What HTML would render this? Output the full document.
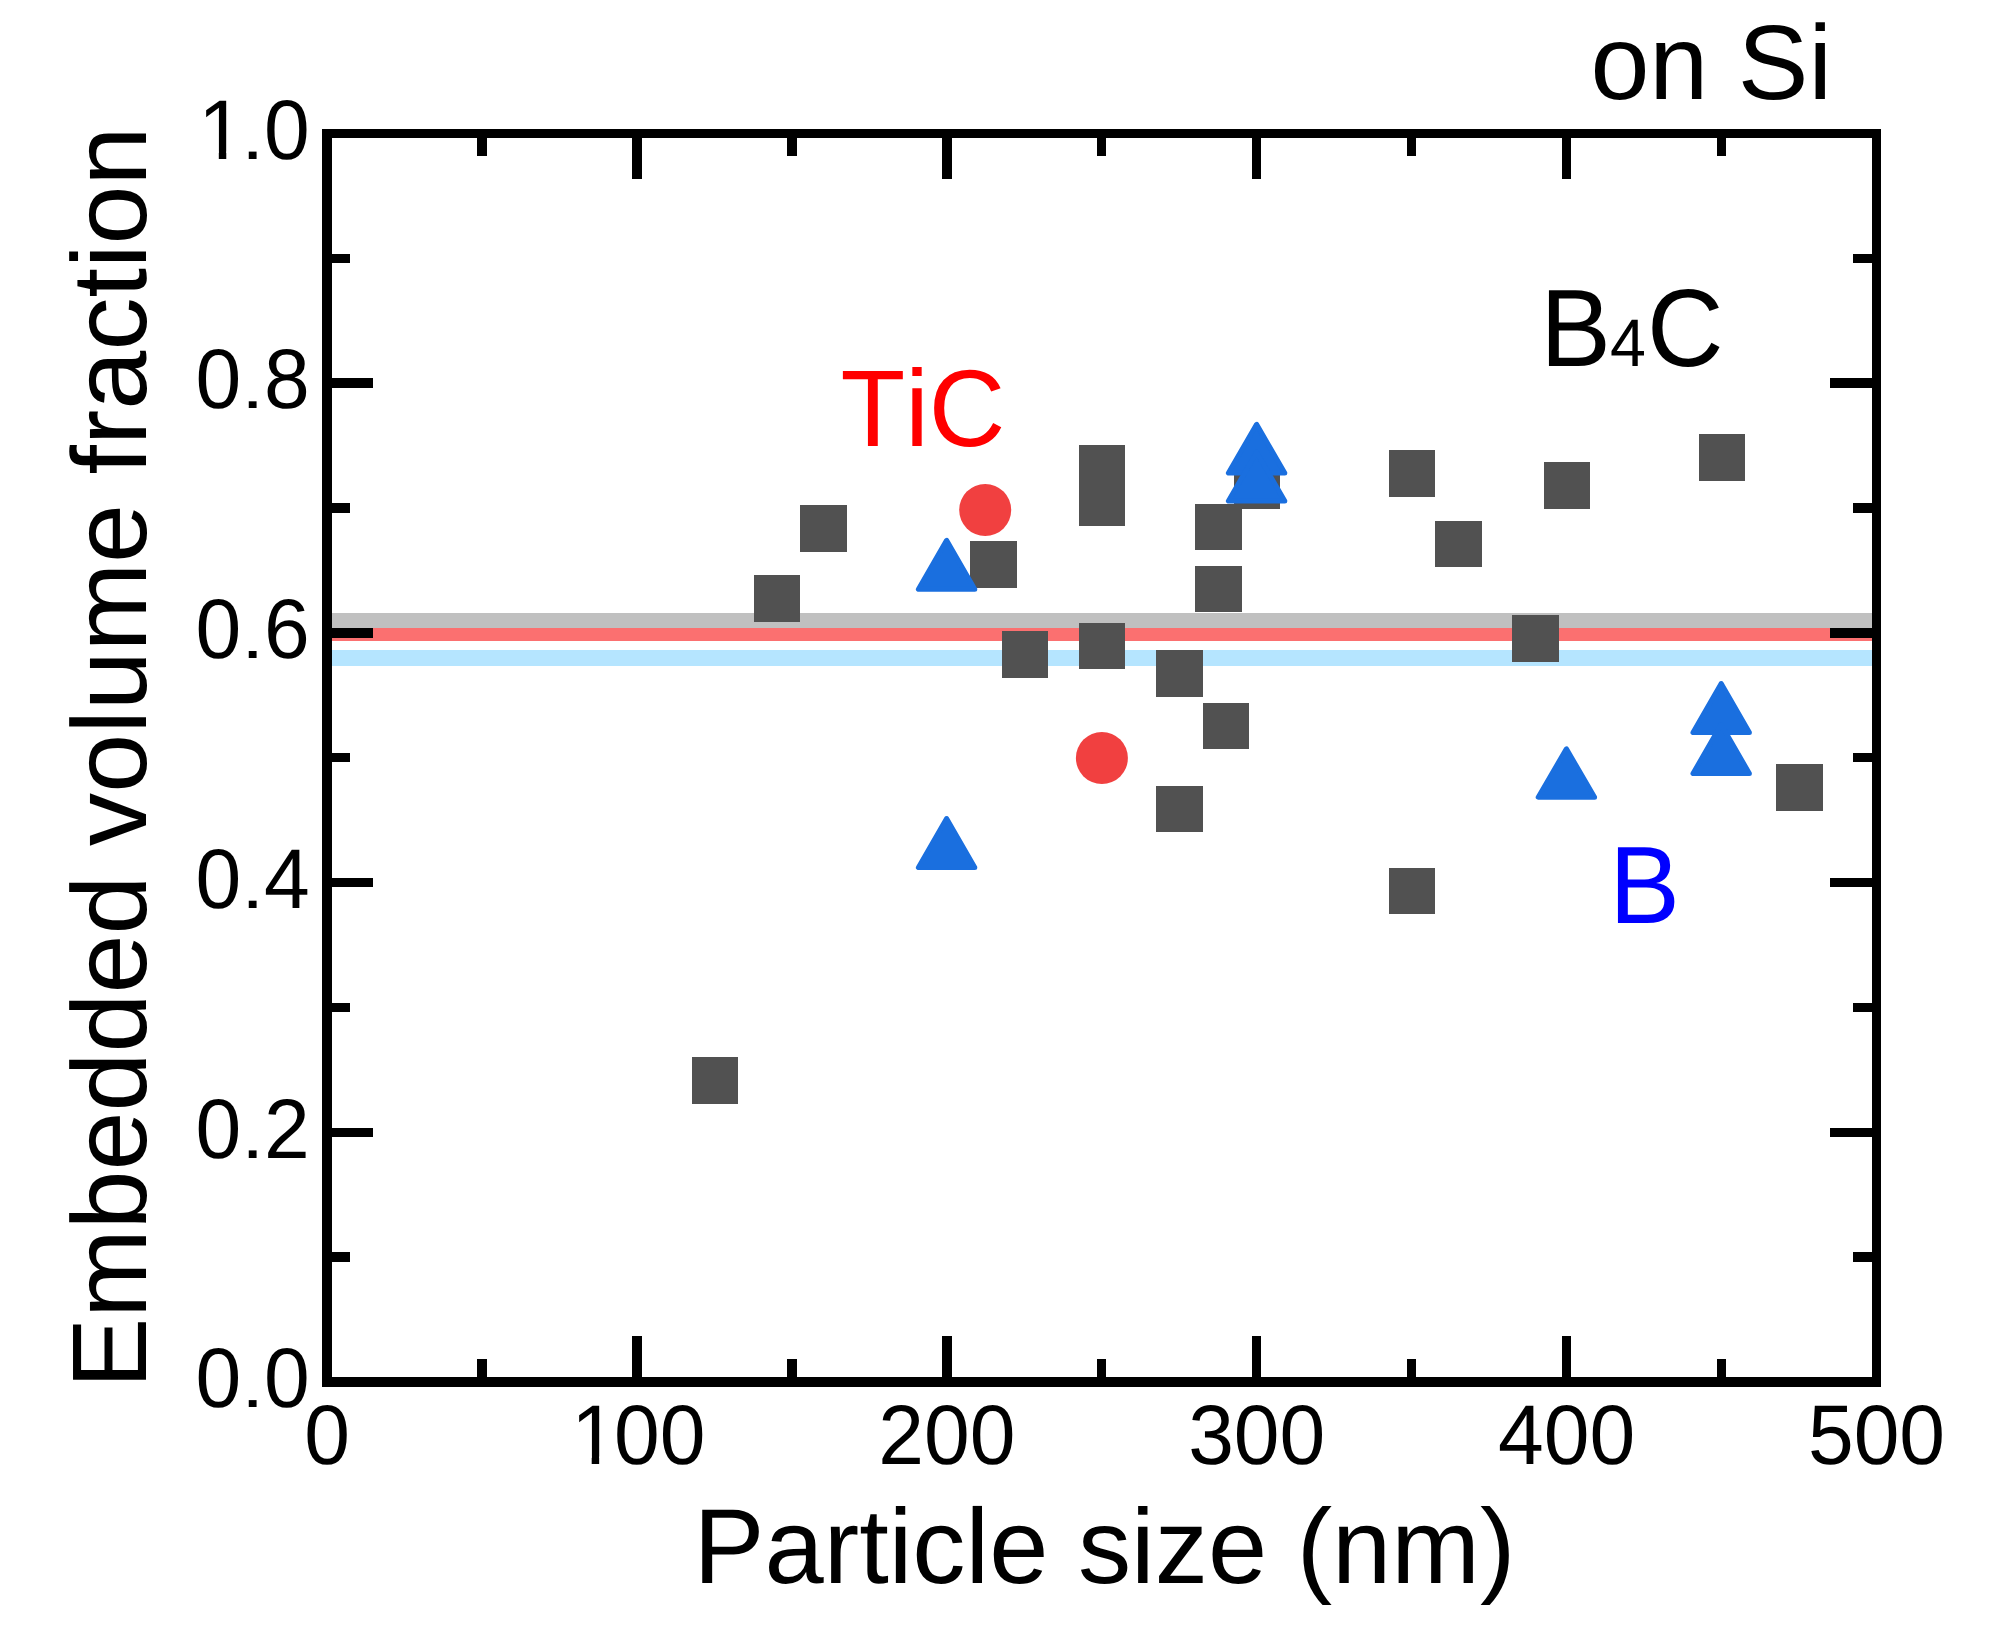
<!DOCTYPE html>
<html lang="en"><head><meta charset="utf-8"><title>Embedded volume fraction vs particle size (on Si)</title>
<style>html,body{margin:0;padding:0;background:#fff;}body{width:1995px;height:1632px;overflow:hidden;}svg{display:block;}text{font-family:"Liberation Sans", Arial, Helvetica, sans-serif;fill:#000;font-kerning:none;text-rendering:geometricPrecision;}</style></head><body>
<svg width="1995" height="1632" viewBox="0 0 1995 1632">
<rect x="0" y="0" width="1995" height="1632" fill="#ffffff"/>
<g shape-rendering="crispEdges">
<rect x="327" y="613" width="1550" height="15" fill="#c0c0c0"/>
<rect x="327" y="628" width="1550" height="13" fill="#fb7070"/>
<rect x="327" y="650" width="1550" height="16" fill="#b5e5ff"/>
</g>
<g fill="#515151" shape-rendering="crispEdges">
<rect x="692" y="1057" width="46" height="47"/>
<rect x="754" y="575" width="46" height="47"/>
<rect x="800" y="505" width="47" height="47"/>
<rect x="970" y="541" width="47" height="47"/>
<rect x="1002" y="631" width="46" height="47"/>
<rect x="1079" y="445" width="46" height="47"/>
<rect x="1079" y="479" width="46" height="47"/>
<rect x="1079" y="623" width="46" height="46"/>
<rect x="1156" y="650" width="47" height="47"/>
<rect x="1156" y="786" width="47" height="46"/>
<rect x="1195" y="504" width="47" height="46"/>
<rect x="1195" y="566" width="47" height="46"/>
<rect x="1203" y="703" width="46" height="46"/>
<rect x="1234" y="462" width="46" height="47"/>
<rect x="1389" y="450" width="46" height="47"/>
<rect x="1389" y="868" width="46" height="46"/>
<rect x="1435" y="521" width="47" height="46"/>
<rect x="1512" y="615" width="47" height="47"/>
<rect x="1544" y="462" width="46" height="47"/>
<rect x="1699" y="434" width="46" height="47"/>
<rect x="1776" y="764" width="47" height="47"/>
</g>
<g fill="#f14040">
<circle cx="985.2" cy="510.0" r="26"/>
<circle cx="1101.9" cy="758.0" r="26"/>
</g>
<g fill="#1a6fdf" stroke="#1a6fdf" stroke-width="5.0" stroke-linejoin="round">
<polygon points="946.6,540.3 918.4,589.3 974.8,589.3"/>
<polygon points="946.6,818.5 918.4,867.5 974.8,867.5"/>
<polygon points="1256.6,424.3 1228.4,473.1 1284.8,473.1"/>
<polygon points="1256.6,452.2 1228.4,501.0 1284.8,501.0"/>
<polygon points="1566.4,748.8 1538.2,797.2 1594.6,797.2"/>
<polygon points="1721.2,683.5 1693.0,732.5 1749.4,732.5"/>
<polygon points="1721.2,724.5 1693.0,773.5 1749.4,773.5"/>
</g>
<g fill="#000" shape-rendering="crispEdges">
<rect x="322" y="129" width="1559" height="9"/>
<rect x="322" y="1377" width="1559" height="10"/>
<rect x="322" y="129" width="10" height="1258"/>
<rect x="1872" y="129" width="9" height="1258"/>
<rect x="477" y="138" width="10" height="18"/>
<rect x="477" y="1359" width="10" height="18"/>
<rect x="632" y="138" width="10" height="41"/>
<rect x="632" y="1336" width="10" height="41"/>
<rect x="787" y="138" width="10" height="18"/>
<rect x="787" y="1359" width="10" height="18"/>
<rect x="942" y="138" width="10" height="41"/>
<rect x="942" y="1336" width="10" height="41"/>
<rect x="1097" y="138" width="9" height="18"/>
<rect x="1097" y="1359" width="9" height="18"/>
<rect x="1252" y="138" width="9" height="41"/>
<rect x="1252" y="1336" width="9" height="41"/>
<rect x="1407" y="138" width="9" height="18"/>
<rect x="1407" y="1359" width="9" height="18"/>
<rect x="1562" y="138" width="9" height="41"/>
<rect x="1562" y="1336" width="9" height="41"/>
<rect x="1717" y="138" width="9" height="18"/>
<rect x="1717" y="1359" width="9" height="18"/>
<rect x="332" y="1252" width="18" height="10"/>
<rect x="1853" y="1252" width="19" height="10"/>
<rect x="332" y="1128" width="41" height="9"/>
<rect x="1830" y="1128" width="42" height="9"/>
<rect x="332" y="1003" width="18" height="9"/>
<rect x="1853" y="1003" width="19" height="9"/>
<rect x="332" y="878" width="41" height="9"/>
<rect x="1830" y="878" width="42" height="9"/>
<rect x="332" y="753" width="18" height="9"/>
<rect x="1853" y="753" width="19" height="9"/>
<rect x="332" y="628" width="41" height="10"/>
<rect x="1830" y="628" width="42" height="10"/>
<rect x="332" y="503" width="18" height="10"/>
<rect x="1853" y="503" width="19" height="10"/>
<rect x="332" y="378" width="41" height="10"/>
<rect x="1830" y="378" width="42" height="10"/>
<rect x="332" y="254" width="18" height="9"/>
<rect x="1853" y="254" width="19" height="9"/>
</g>
<g font-size="82.2">
<text transform="translate(0,1463.7) scale(1,1.03)" x="304.14" y="0">0</text>
<text transform="translate(0,1463.7) scale(1,1.03)" x="571.13 614.04 659.76" y="0">100</text>
<text transform="translate(0,1463.7) scale(1,1.03)" x="878.23 923.94 969.66" y="0">200</text>
<text transform="translate(0,1463.7) scale(1,1.03)" x="1188.13 1233.84 1279.56" y="0">300</text>
<text transform="translate(0,1463.7) scale(1,1.03)" x="1498.03 1543.74 1589.46" y="0">400</text>
<text transform="translate(0,1463.7) scale(1,1.03)" x="1807.93 1853.64 1899.36" y="0">500</text>
<text transform="translate(0,1407.2) scale(1,1.03)" x="195.43 241.15 263.98" y="0">0.0</text>
<text transform="translate(0,1157.5) scale(1,1.03)" x="195.43 241.15 263.98" y="0">0.2</text>
<text transform="translate(0,907.8) scale(1,1.03)" x="195.43 241.15 263.98" y="0">0.4</text>
<text transform="translate(0,658.1) scale(1,1.03)" x="195.43 241.15 263.98" y="0">0.6</text>
<text transform="translate(0,408.4) scale(1,1.03)" x="195.43 241.15 263.98" y="0">0.8</text>
<text transform="translate(0,158.7) scale(1,1.03)" x="198.23 241.15 263.98" y="0">1.0</text>
</g>
<rect x="575.89" y="1456.57" width="15.81" height="8.63" fill="#fff"/>
<rect x="599.16" y="1456.57" width="15.17" height="8.63" fill="#fff"/>
<rect x="202.99" y="151.57" width="15.81" height="8.63" fill="#fff"/>
<rect x="226.27" y="151.57" width="15.17" height="8.63" fill="#fff"/>
<rect x="247.3" y="1396.90" width="10.6" height="3.2" fill="#fff"/>
<rect x="247.3" y="1147.20" width="10.6" height="3.2" fill="#fff"/>
<rect x="247.3" y="897.50" width="10.6" height="3.2" fill="#fff"/>
<rect x="247.3" y="647.80" width="10.6" height="3.2" fill="#fff"/>
<rect x="247.3" y="398.10" width="10.6" height="3.2" fill="#fff"/>
<rect x="247.3" y="148.40" width="10.6" height="3.2" fill="#fff"/>
<g font-size="106">
<text transform="translate(693.60,1583.00) scale(1,1.000)" font-size="106.4">Particle size (nm)</text>
<text transform="translate(146,757.5) rotate(-90) translate(-631.06,0.00) scale(1,1.000)" font-size="106.1">Embedded volume fraction</text>
<text transform="translate(1590.40,99.00) scale(1,1.000)" font-size="106">on Si</text>
<text transform="translate(1540.3,366.0) scale(1,1.040)" text-anchor="start">B<tspan font-size="64.5" dx="-1">4</tspan><tspan dx="1">C</tspan></text>
<text transform="translate(840.50,446.00) scale(1,1.030)" font-size="106" style="fill:#ff0000">TiC</text>
<text transform="translate(1609.3,923.0) scale(1,1.040)" text-anchor="start" style="fill:#0000ff">B</text>
</g>
</svg></body></html>
